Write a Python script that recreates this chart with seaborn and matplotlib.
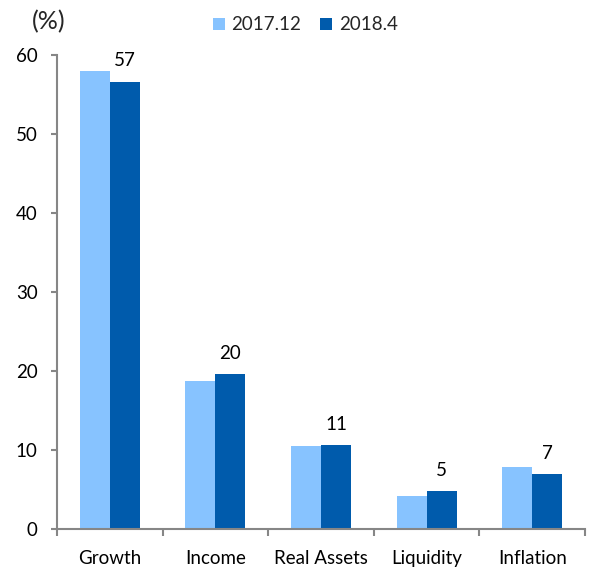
import matplotlib
matplotlib.use("Agg")
import matplotlib.pyplot as plt
import seaborn as sns
import pandas as pd
from matplotlib.ticker import FixedLocator
from matplotlib.patches import Patch

categories = ["Growth", "Income", "Real Assets", "Liquidity", "Inflation"]
series_names = ["2017.12", "2018.4"]
values_2017_12 = [58.0, 18.7, 10.5, 4.2, 7.9]
values_2018_4 = [56.6, 19.6, 10.6, 4.8, 6.9]
bar_labels = ["57", "20", "11", "5", "7"]
y_ticks = [0, 10, 20, 30, 40, 50, 60]

colors = ["#87C3FF", "#005BAC"]

sns.set_theme(style="white")
plt.rcParams["font.family"] = ["Lato", "DejaVu Sans"]

df = pd.DataFrame({
    "category": categories * 2,
    "series": [series_names[0]] * len(categories) + [series_names[1]] * len(categories),
    "value": values_2017_12 + values_2018_4,
})

fig = plt.figure(figsize=(6.02, 5.76), dpi=100)
ax = fig.add_axes([57 / 602, 1 - 529 / 576, (585 - 57) / 602, (529 - 55) / 576])

sns.barplot(data=df, x="category", y="value", hue="series", order=categories,
            hue_order=series_names, palette=colors, width=0.57, ax=ax,
            saturation=1, legend=False, edgecolor="none", linewidth=0)

ax.set_xlim(-0.5, len(categories) - 0.5)
ax.set_ylim(0, 60)
ax.set_yticks(y_ticks)
ax.set_xlabel("")
ax.set_ylabel("")

gray = "#868686"
for s in ["top", "right"]:
    ax.spines[s].set_visible(False)
for s in ["left", "bottom"]:
    ax.spines[s].set_color(gray)
    ax.spines[s].set_linewidth(1.5)

ax.tick_params(axis="y", which="major", direction="out", length=4, width=1.5,
               color=gray, labelsize=13.5, pad=10, left=True, labelcolor="black")
ax.tick_params(axis="x", which="major", length=0, labelsize=13.5, pad=15,
               labelcolor="black")
ax.xaxis.set_minor_locator(FixedLocator([i - 0.5 for i in range(len(categories) + 1)]))
ax.tick_params(axis="x", which="minor", direction="out", length=5, width=1.5,
               color=gray, bottom=True)

ax.bar_label(ax.containers[1], labels=bar_labels, padding=9, fontsize=13.5,
             color="black")

handles = [Patch(facecolor=c, edgecolor="none") for c in colors]
fig.legend(handles, series_names, loc="center", bbox_to_anchor=(305 / 602, 1 - 25 / 576),
           ncol=2, frameon=False, fontsize=13.5, handlelength=0.65, handleheight=0.65,
           handletextpad=0.35, columnspacing=1.0, borderpad=0, borderaxespad=0)

fig.text(48.5 / 602, 1 - 22 / 576, "(%)", ha="center", va="center", fontsize=18)

fig.savefig("out.png", dpi=100)
